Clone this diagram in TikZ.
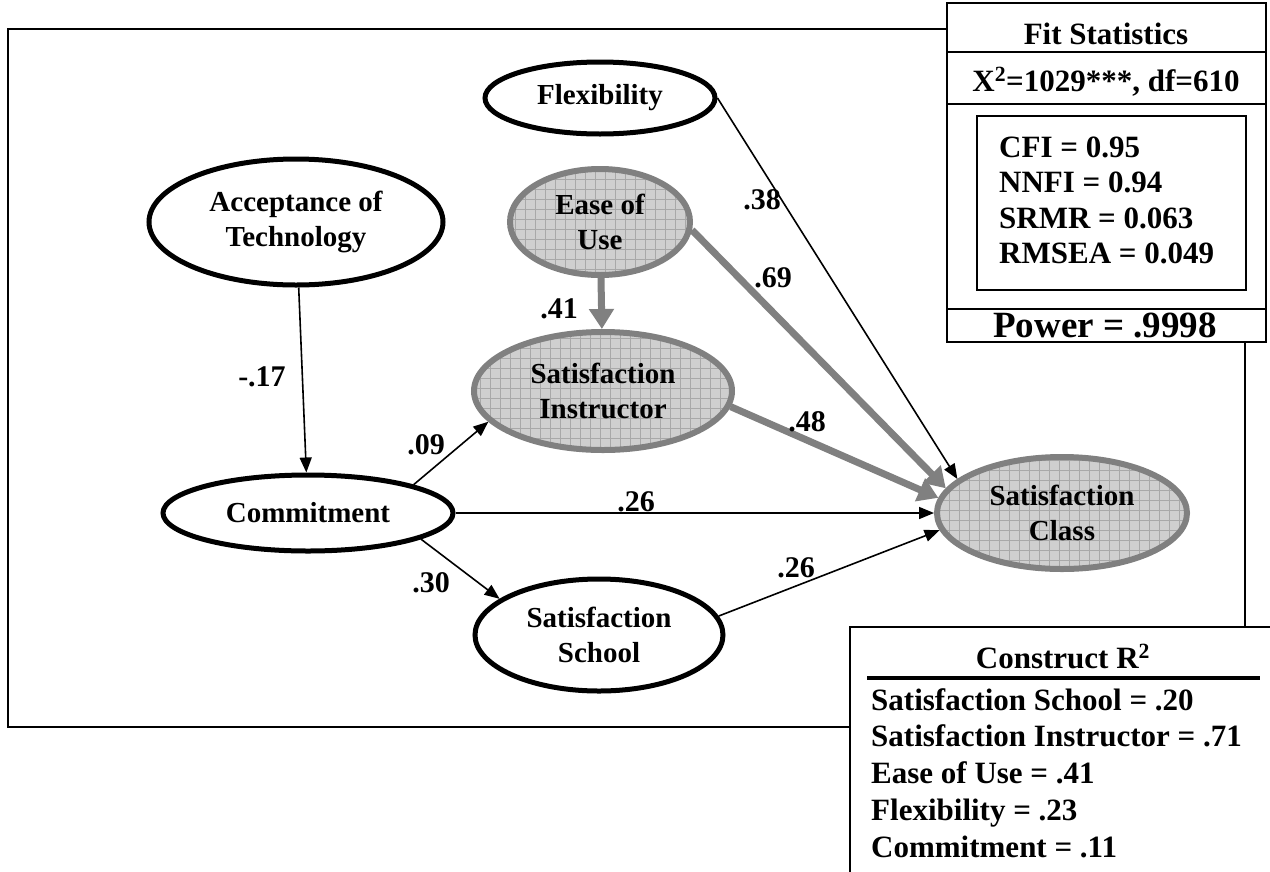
\documentclass[tikz,border=0pt]{standalone}
\usepackage{fontspec}
\setmainfont{Liberation Serif}
\usetikzlibrary{arrows.meta,shapes.geometric}

\definecolor{pathgray}{HTML}{808080}
\definecolor{cellgray}{HTML}{CFCFCF}
\definecolor{gridgray}{HTML}{A8A8A8}

\newcommand\lblfont{\fontsize{29}{35}\selectfont\bfseries}
\newcommand\coeffont{\fontsize{30}{36}\selectfont\bfseries}
\newcommand\boxfont{\fontsize{31}{36}\selectfont\bfseries}
\newcommand\powfont{\fontsize{37}{44}\selectfont\bfseries}

\tikzset{
  construct/.style={ellipse, draw=black, line width=5pt, fill=white,
    inner sep=0pt, align=center, font=\lblfont},
  shaded/.style={ellipse, draw=pathgray, line width=6pt, fill=cellgray,
    inner sep=0pt, align=center, font=\lblfont,
    path picture={\draw[gridgray, line width=0.7pt, step=10pt]
      (path picture bounding box.south west) grid (path picture bounding box.north east);}},
  thinpath/.style={line width=1.6pt, -{Triangle[length=15pt,width=12pt]}},
  thickpath/.style={draw=pathgray, line width=7pt, -{Triangle[length=20pt,width=24pt]}},
  coef/.style={font=\coeffont, inner sep=0pt},
  boxtext/.style={font=\boxfont, inner sep=0pt},
  frameline/.style={line width=2pt},
}

\begin{document}
\begin{tikzpicture}[x=1pt, y=-1pt]
\useasboundingbox[fill=white] (0,0) rectangle (1270,871);

% outer frame of the model
\draw[frameline] (947,29) -- (8,29) -- (8,727) -- (850,727);
\draw[frameline] (1245,343) -- (1245,627);

% latent constructs
\node[construct, minimum width=294pt, minimum height=126pt] (acc) at (296,222) {Acceptance of\\Technology};
\node[construct, minimum width=230pt, minimum height=72pt] (flex) at (600,98) {Flexibility};
\node[shaded, minimum width=180pt, minimum height=106pt] (ease) at (600,222) {Ease of\\Use};
\node[shaded, minimum width=258pt, minimum height=118pt] (ins) at (603,391) {Satisfaction\\Instructor};
\node[construct, minimum width=290pt, minimum height=76pt] (com) at (308,513) {Commitment};
\node[construct, minimum width=248pt, minimum height=112pt] (sch) at (599,635) {Satisfaction\\School};
\node[shaded, minimum width=250pt, minimum height=112pt] (cls) at (1062,513) {Satisfaction\\Class};

% structural paths
\draw[thinpath] (acc) -- (com);
\draw[thinpath] (com.15.7) -- (ins.195);
\draw[thinpath] (com.east) -- (cls.west);
\draw[thinpath] (com.-13) -- (sch.160);
\draw[thinpath] (sch.9.6) -- (cls.188.6);
\draw[thickpath] (ease) -- (ins);
\draw[thickpath] (ease.-5) -- (cls.168.7);
\draw[thickpath] (ins.-7) -- (cls.173.3);
\draw[thinpath] (flex.east) -- (cls.162.4);

% path coefficients
\node[coef] (c17) at (262,377) {-.17};
\node[coef] (c09) at (426,445) {.09};
\node[coef] (c30) at (431,583) {.30};
\node[coef] (c26a) at (636,502) {.26};
\node[coef] (c26b) at (796,568) {.26};
\node[coef] (c41) at (559,309) {.41};
\node[coef] (c48) at (807,422) {.48};
\node[coef] (c69) at (773,278) {.69};
\node[coef] (c38) at (762,200) {.38};

% fit statistics panel
\draw[frameline, fill=white] (947,3) rectangle (1266,342);
\draw[frameline] (947,52) -- (1266,52);
\draw[frameline] (947,104) -- (1266,104);
\draw[frameline] (947,309) -- (1266,309);
\draw[frameline] (977,116) rectangle (1246,290);
\node[boxtext, anchor=base] (fittitle) at (1106,44) {Fit Statistics};
\node[boxtext, anchor=base] (chisq) at (1106,91) {X\textsuperscript{2}=1029***, df=610};
\node[boxtext, anchor=base west] (cfi) at (999,157) {CFI = 0.95};
\node[boxtext, anchor=base west] (nnfi) at (999,192) {NNFI = 0.94};
\node[boxtext, anchor=base west] (srmr) at (999,228) {SRMR = 0.063};
\node[boxtext, anchor=base west] (rmsea) at (999,263) {RMSEA = 0.049};
\node[font=\powfont, inner sep=0pt, anchor=base] (power) at (1105,337) {Power = .9998};

% R-squared panel
\draw[frameline, fill=white] (1272,627) -- (850,627) -- (850,873) -- (1272,873);
\draw[line width=4pt] (867,678) -- (1260,678);
\node[boxtext, anchor=base] (r2title) at (1063,668) {Construct R\textsuperscript{2}};
\node[boxtext, anchor=base west] (r2a) at (871,710) {Satisfaction School = .20};
\node[boxtext, anchor=base west] (r2b) at (871,746.5) {Satisfaction Instructor = .71};
\node[boxtext, anchor=base west] (r2c) at (871,783) {Ease of Use = .41};
\node[boxtext, anchor=base west] (r2d) at (871,820) {Flexibility = .23};
\node[boxtext, anchor=base west] (r2e) at (871,857) {Commitment = .11};
\end{tikzpicture}
\end{document}
